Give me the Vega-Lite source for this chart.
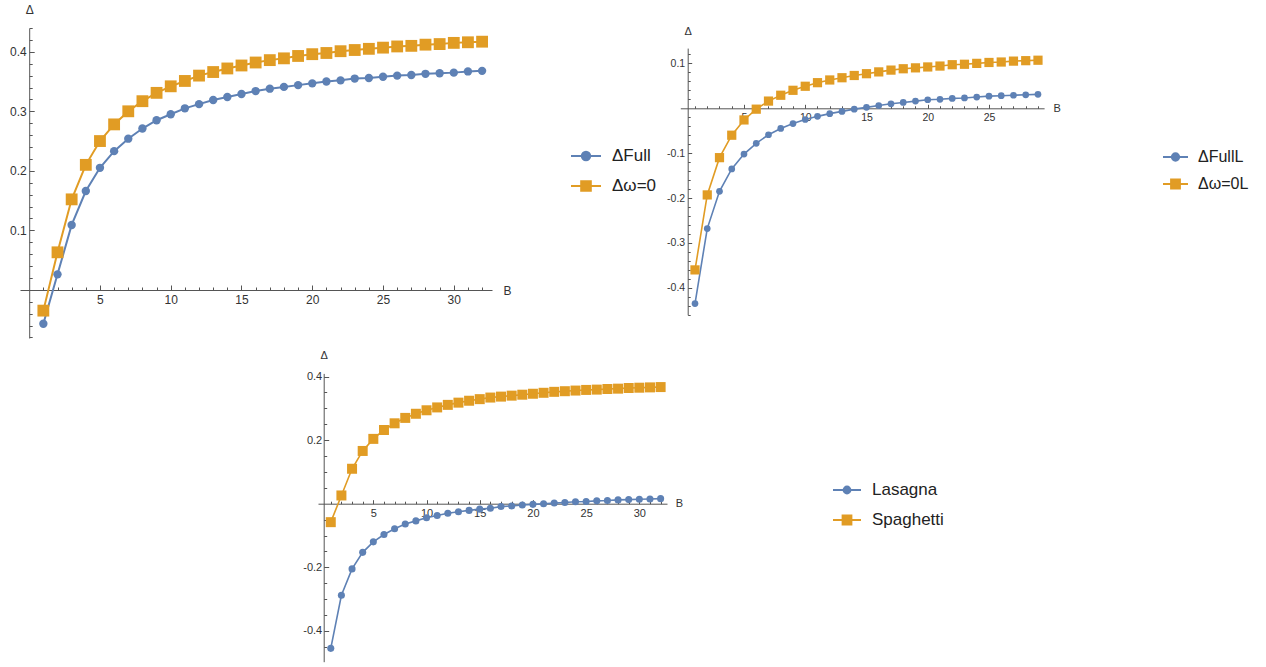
{
  "$schema": "https://vega.github.io/schema/vega-lite/v6.json",
  "width": 1266,
  "height": 667,
  "padding": 0,
  "autosize": "none",
  "background": "white",
  "config": {
    "view": {"stroke": null},
    "font": "Liberation Sans",
    "axis": {
      "grid": false,
      "domainColor": "#555555",
      "tickColor": "#555555",
      "domainWidth": 1,
      "tickWidth": 1,
      "labelColor": "#333333",
      "titleColor": "#333333",
      "labelFont": "Liberation Sans",
      "titleFont": "Liberation Sans",
      "titleFontWeight": "normal",
      "titleFontSize": 12,
      "labelOverlap": false,
      "labelFlush": false
    },
    "legend": {
      "labelFont": "Liberation Sans",
      "labelColor": "#222222",
      "padding": 0,
      "labelLimit": 0
    }
  },
  "datasets": {
    "p1": [
      {"B":1,"s":"ΔFull","v":-0.057},{"B":2,"s":"ΔFull","v":0.026},{"B":3,"s":"ΔFull","v":0.109},{"B":4,"s":"ΔFull","v":0.166},
      {"B":5,"s":"ΔFull","v":0.205},{"B":6,"s":"ΔFull","v":0.233},{"B":7,"s":"ΔFull","v":0.254},{"B":8,"s":"ΔFull","v":0.271},
      {"B":9,"s":"ΔFull","v":0.285},{"B":10,"s":"ΔFull","v":0.295},{"B":11,"s":"ΔFull","v":0.305},{"B":12,"s":"ΔFull","v":0.312},
      {"B":13,"s":"ΔFull","v":0.319},{"B":14,"s":"ΔFull","v":0.324},{"B":15,"s":"ΔFull","v":0.329},{"B":16,"s":"ΔFull","v":0.334},
      {"B":17,"s":"ΔFull","v":0.338},{"B":18,"s":"ΔFull","v":0.341},{"B":19,"s":"ΔFull","v":0.344},{"B":20,"s":"ΔFull","v":0.347},
      {"B":21,"s":"ΔFull","v":0.35},{"B":22,"s":"ΔFull","v":0.352},{"B":23,"s":"ΔFull","v":0.355},{"B":24,"s":"ΔFull","v":0.356},
      {"B":25,"s":"ΔFull","v":0.358},{"B":26,"s":"ΔFull","v":0.36},{"B":27,"s":"ΔFull","v":0.361},{"B":28,"s":"ΔFull","v":0.363},
      {"B":29,"s":"ΔFull","v":0.364},{"B":30,"s":"ΔFull","v":0.365},{"B":31,"s":"ΔFull","v":0.367},{"B":32,"s":"ΔFull","v":0.368},
      {"B":1,"s":"Δω=0","v":-0.035},{"B":2,"s":"Δω=0","v":0.063},{"B":3,"s":"Δω=0","v":0.152},{"B":4,"s":"Δω=0","v":0.21},
      {"B":5,"s":"Δω=0","v":0.25},{"B":6,"s":"Δω=0","v":0.278},{"B":7,"s":"Δω=0","v":0.3},{"B":8,"s":"Δω=0","v":0.317},
      {"B":9,"s":"Δω=0","v":0.331},{"B":10,"s":"Δω=0","v":0.342},{"B":11,"s":"Δω=0","v":0.351},{"B":12,"s":"Δω=0","v":0.36},
      {"B":13,"s":"Δω=0","v":0.366},{"B":14,"s":"Δω=0","v":0.372},{"B":15,"s":"Δω=0","v":0.377},{"B":16,"s":"Δω=0","v":0.382},
      {"B":17,"s":"Δω=0","v":0.386},{"B":18,"s":"Δω=0","v":0.389},{"B":19,"s":"Δω=0","v":0.393},{"B":20,"s":"Δω=0","v":0.396},
      {"B":21,"s":"Δω=0","v":0.398},{"B":22,"s":"Δω=0","v":0.401},{"B":23,"s":"Δω=0","v":0.403},{"B":24,"s":"Δω=0","v":0.405},
      {"B":25,"s":"Δω=0","v":0.407},{"B":26,"s":"Δω=0","v":0.409},{"B":27,"s":"Δω=0","v":0.41},{"B":28,"s":"Δω=0","v":0.412},
      {"B":29,"s":"Δω=0","v":0.413},{"B":30,"s":"Δω=0","v":0.415},{"B":31,"s":"Δω=0","v":0.416},{"B":32,"s":"Δω=0","v":0.417}
    ],
    "p2": [
      {"B":1,"s":"ΔFullL","v":-0.435},{"B":2,"s":"ΔFullL","v":-0.268},{"B":3,"s":"ΔFullL","v":-0.185},{"B":4,"s":"ΔFullL","v":-0.135},
      {"B":5,"s":"ΔFullL","v":-0.102},{"B":6,"s":"ΔFullL","v":-0.078},{"B":7,"s":"ΔFullL","v":-0.059},{"B":8,"s":"ΔFullL","v":-0.045},
      {"B":9,"s":"ΔFullL","v":-0.034},{"B":10,"s":"ΔFullL","v":-0.025},{"B":11,"s":"ΔFullL","v":-0.018},{"B":12,"s":"ΔFullL","v":-0.012},
      {"B":13,"s":"ΔFullL","v":-0.007},{"B":14,"s":"ΔFullL","v":-0.002},{"B":15,"s":"ΔFullL","v":0.002},{"B":16,"s":"ΔFullL","v":0.006},
      {"B":17,"s":"ΔFullL","v":0.01},{"B":18,"s":"ΔFullL","v":0.013},{"B":19,"s":"ΔFullL","v":0.016},{"B":20,"s":"ΔFullL","v":0.019},
      {"B":21,"s":"ΔFullL","v":0.02},{"B":22,"s":"ΔFullL","v":0.022},{"B":23,"s":"ΔFullL","v":0.023},{"B":24,"s":"ΔFullL","v":0.025},
      {"B":25,"s":"ΔFullL","v":0.027},{"B":26,"s":"ΔFullL","v":0.028},{"B":27,"s":"ΔFullL","v":0.029},{"B":28,"s":"ΔFullL","v":0.03},
      {"B":29,"s":"ΔFullL","v":0.031},
      {"B":1,"s":"Δω=0L","v":-0.36},{"B":2,"s":"Δω=0L","v":-0.193},{"B":3,"s":"Δω=0L","v":-0.11},{"B":4,"s":"Δω=0L","v":-0.06},
      {"B":5,"s":"Δω=0L","v":-0.026},{"B":6,"s":"Δω=0L","v":-0.002},{"B":7,"s":"Δω=0L","v":0.016},{"B":8,"s":"Δω=0L","v":0.029},
      {"B":9,"s":"Δω=0L","v":0.04},{"B":10,"s":"Δω=0L","v":0.049},{"B":11,"s":"Δω=0L","v":0.057},{"B":12,"s":"Δω=0L","v":0.063},
      {"B":13,"s":"Δω=0L","v":0.068},{"B":14,"s":"Δω=0L","v":0.073},{"B":15,"s":"Δω=0L","v":0.077},{"B":16,"s":"Δω=0L","v":0.081},
      {"B":17,"s":"Δω=0L","v":0.085},{"B":18,"s":"Δω=0L","v":0.088},{"B":19,"s":"Δω=0L","v":0.09},{"B":20,"s":"Δω=0L","v":0.092},
      {"B":21,"s":"Δω=0L","v":0.094},{"B":22,"s":"Δω=0L","v":0.097},{"B":23,"s":"Δω=0L","v":0.098},{"B":24,"s":"Δω=0L","v":0.1},
      {"B":25,"s":"Δω=0L","v":0.102},{"B":26,"s":"Δω=0L","v":0.103},{"B":27,"s":"Δω=0L","v":0.105},{"B":28,"s":"Δω=0L","v":0.106},
      {"B":29,"s":"Δω=0L","v":0.107}
    ],
    "p3": [
      {"B":1,"s":"Lasagna","v":-0.455},{"B":2,"s":"Lasagna","v":-0.288},{"B":3,"s":"Lasagna","v":-0.205},{"B":4,"s":"Lasagna","v":-0.153},
      {"B":5,"s":"Lasagna","v":-0.12},{"B":6,"s":"Lasagna","v":-0.097},{"B":7,"s":"Lasagna","v":-0.079},{"B":8,"s":"Lasagna","v":-0.064},
      {"B":9,"s":"Lasagna","v":-0.054},{"B":10,"s":"Lasagna","v":-0.044},{"B":11,"s":"Lasagna","v":-0.037},{"B":12,"s":"Lasagna","v":-0.03},
      {"B":13,"s":"Lasagna","v":-0.025},{"B":14,"s":"Lasagna","v":-0.021},{"B":15,"s":"Lasagna","v":-0.017},{"B":16,"s":"Lasagna","v":-0.014},
      {"B":17,"s":"Lasagna","v":-0.009},{"B":18,"s":"Lasagna","v":-0.007},{"B":19,"s":"Lasagna","v":-0.004},{"B":20,"s":"Lasagna","v":-0.002},
      {"B":21,"s":"Lasagna","v":0.0},{"B":22,"s":"Lasagna","v":0.002},{"B":23,"s":"Lasagna","v":0.004},{"B":24,"s":"Lasagna","v":0.006},
      {"B":25,"s":"Lasagna","v":0.007},{"B":26,"s":"Lasagna","v":0.009},{"B":27,"s":"Lasagna","v":0.01},{"B":28,"s":"Lasagna","v":0.012},
      {"B":29,"s":"Lasagna","v":0.013},{"B":30,"s":"Lasagna","v":0.014},{"B":31,"s":"Lasagna","v":0.015},{"B":32,"s":"Lasagna","v":0.016},
      {"B":1,"s":"Spaghetti","v":-0.058},{"B":2,"s":"Spaghetti","v":0.026},{"B":3,"s":"Spaghetti","v":0.11},{"B":4,"s":"Spaghetti","v":0.166},
      {"B":5,"s":"Spaghetti","v":0.204},{"B":6,"s":"Spaghetti","v":0.232},{"B":7,"s":"Spaghetti","v":0.253},{"B":8,"s":"Spaghetti","v":0.27},
      {"B":9,"s":"Spaghetti","v":0.283},{"B":10,"s":"Spaghetti","v":0.294},{"B":11,"s":"Spaghetti","v":0.303},{"B":12,"s":"Spaghetti","v":0.311},
      {"B":13,"s":"Spaghetti","v":0.318},{"B":14,"s":"Spaghetti","v":0.324},{"B":15,"s":"Spaghetti","v":0.329},{"B":16,"s":"Spaghetti","v":0.334},
      {"B":17,"s":"Spaghetti","v":0.337},{"B":18,"s":"Spaghetti","v":0.34},{"B":19,"s":"Spaghetti","v":0.343},{"B":20,"s":"Spaghetti","v":0.346},
      {"B":21,"s":"Spaghetti","v":0.349},{"B":22,"s":"Spaghetti","v":0.352},{"B":23,"s":"Spaghetti","v":0.354},{"B":24,"s":"Spaghetti","v":0.356},
      {"B":25,"s":"Spaghetti","v":0.358},{"B":26,"s":"Spaghetti","v":0.359},{"B":27,"s":"Spaghetti","v":0.361},{"B":28,"s":"Spaghetti","v":0.362},
      {"B":29,"s":"Spaghetti","v":0.364},{"B":30,"s":"Spaghetti","v":0.365},{"B":31,"s":"Spaghetti","v":0.366},{"B":32,"s":"Spaghetti","v":0.367}
    ]
  },
  "layer": [
    {
      "data": {"name": "p1"},
      "encoding": {
        "x": {
          "field": "B", "type": "quantitative",
          "scale": {"domain": [-0.65, 32.7], "range": [20, 492], "nice": false, "zero": false},
          "axis": {
            "orient": "bottom", "offset": -377,
            "values": [1,2,3,4,5,6,7,8,9,10,11,12,13,14,15,16,17,18,19,20,21,22,23,24,25,26,27,28,29,30,31,32],
            "labelExpr": "datum.value % 5 === 0 ? format(datum.value, 'd') : ''",
            "tickSize": {"condition": {"test": "datum.value % 5 === 0", "value": -5}, "value": -3},
            "labelPadding": 9, "labelFontSize": 12,
            "title": "B", "titleX": 507, "titleY": 0, "titleAlign": "center", "titleBaseline": "middle", "titleAngle": 0
          }
        },
        "y": {
          "field": "v", "type": "quantitative",
          "scale": {"domain": [-0.081, 0.44], "range": [338, 28], "nice": false, "zero": false},
          "axis": {
            "orient": "left", "offset": -29.2,
            "values": [-0.08,-0.06,-0.04,-0.02,0.02,0.04,0.06,0.08,0.1,0.12,0.14,0.16,0.18,0.2,0.22,0.24,0.26,0.28,0.3,0.32,0.34,0.36,0.38,0.4,0.42,0.44],
            "labelExpr": "abs(round(datum.value*100)) % 10 === 0 ? (datum.value < 0 ? '-' : '') + format(abs(datum.value), '.1f') : ''",
            "tickSize": {"condition": {"test": "abs(round(datum.value*100)) % 10 === 0", "value": -5}, "value": -3},
            "labelPadding": 8, "labelFontSize": 12,
            "title": "Δ", "titleX": 0, "titleY": 9, "titleAlign": "center", "titleBaseline": "middle", "titleAngle": 0
          }
        },
        "color": {
          "field": "s", "type": "nominal",
          "scale": {"domain": ["ΔFull", "Δω=0"], "range": ["#5E81B5", "#E19C24"]},
          "legend": {
            "orient": "none", "legendX": 570, "legendY": 140, "title": null,
            "symbolSize": 900, "labelFontSize": 17, "labelOffset": 10, "rowPadding": 5,
            "encode": {"symbols": {"update": {
              "shape": {"signal": "datum.index === 0 ? 'M-1,0H1M0.28,0A0.28,0.28 0 1,1 -0.28,0A0.28,0.28 0 1,1 0.28,0Z' : 'M-1,0H1M-0.32,-0.32H0.32V0.32H-0.32Z'"},
              "fill": {"signal": "datum.index === 0 ? '#5E81B5' : '#E19C24'"},
              "stroke": {"signal": "datum.index === 0 ? '#5E81B5' : '#E19C24'"},
              "strokeWidth": {"value": 2},
              "opacity": {"value": 1}
            }}}
          }
        }
      },
      "layer": [
        {"mark": {"type": "line", "strokeWidth": 2}},
        {"transform": [{"filter": "datum.s === 'ΔFull'"}], "mark": {"type": "point", "shape": "circle", "filled": true, "opacity": 1, "size": 70}},
        {"transform": [{"filter": "datum.s === 'Δω=0'"}], "mark": {"type": "point", "shape": "square", "filled": true, "opacity": 1, "size": 140}}
      ]
    },
    {
      "data": {"name": "p2"},
      "encoding": {
        "x": {
          "field": "B", "type": "quantitative",
          "scale": {"domain": [-0.2, 29.5], "range": [680.3, 1044.1], "nice": false, "zero": false},
          "axis": {
            "orient": "bottom", "offset": -558.7,
            "values": [1,2,3,4,5,6,7,8,9,10,11,12,13,14,15,16,17,18,19,20,21,22,23,24,25,26,27,28,29],
            "labelExpr": "datum.value % 5 === 0 ? format(datum.value, 'd') : ''",
            "tickSize": {"condition": {"test": "datum.value % 5 === 0", "value": -4}, "value": -2.5},
            "labelPadding": 8, "labelFontSize": 10.5,
            "title": "B", "titleX": 1056.7, "titleY": 0, "titleAlign": "center", "titleBaseline": "middle", "titleAngle": 0, "titleFontSize": 11
          }
        },
        "y": {
          "field": "v", "type": "quantitative",
          "scale": {"domain": [-0.46, 0.134], "range": [314.8, 48.1], "nice": false, "zero": false},
          "axis": {
            "orient": "left", "offset": -687.7,
            "values": [-0.46,-0.44,-0.42,-0.4,-0.38,-0.36,-0.34,-0.32,-0.3,-0.28,-0.26,-0.24,-0.22,-0.2,-0.18,-0.16,-0.14,-0.12,-0.1,-0.08,-0.06,-0.04,-0.02,0.02,0.04,0.06,0.08,0.1,0.12],
            "labelExpr": "abs(round(datum.value*100)) % 10 === 0 ? (datum.value < 0 ? '-' : '') + format(abs(datum.value), '.1f') : ''",
            "tickSize": {"condition": {"test": "abs(round(datum.value*100)) % 10 === 0", "value": -4}, "value": -2.5},
            "labelPadding": 7, "labelFontSize": 10.5,
            "title": "Δ", "titleX": 0, "titleY": 31.7, "titleAlign": "center", "titleBaseline": "middle", "titleAngle": 0, "titleFontSize": 11
          }
        },
        "color": {
          "field": "s", "type": "nominal",
          "scale": {"domain": ["ΔFullL", "Δω=0L"], "range": ["#5E81B5", "#E19C24"]},
          "legend": {
            "orient": "none", "legendX": 1162, "legendY": 143.5, "title": null,
            "symbolSize": 625, "labelFontSize": 16, "labelOffset": 9, "rowPadding": 5,
            "encode": {"symbols": {"update": {
              "shape": {"signal": "datum.index === 0 ? 'M-1,0H1M0.3,0A0.3,0.3 0 1,1 -0.3,0A0.3,0.3 0 1,1 0.3,0Z' : 'M-1,0H1M-0.36,-0.36H0.36V0.36H-0.36Z'"},
              "fill": {"signal": "datum.index === 0 ? '#5E81B5' : '#E19C24'"},
              "stroke": {"signal": "datum.index === 0 ? '#5E81B5' : '#E19C24'"},
              "strokeWidth": {"value": 1.8},
              "opacity": {"value": 1}
            }}}
          }
        }
      },
      "layer": [
        {"mark": {"type": "line", "strokeWidth": 1.6}},
        {"transform": [{"filter": "datum.s === 'ΔFullL'"}], "mark": {"type": "point", "shape": "circle", "filled": true, "opacity": 1, "size": 45}},
        {"transform": [{"filter": "datum.s === 'Δω=0L'"}], "mark": {"type": "point", "shape": "square", "filled": true, "opacity": 1, "size": 85}}
      ]
    },
    {
      "data": {"name": "p3"},
      "encoding": {
        "x": {
          "field": "B", "type": "quantitative",
          "scale": {"domain": [-0.2, 32.6], "range": [318, 667], "nice": false, "zero": false},
          "axis": {
            "orient": "bottom", "offset": -163.3,
            "values": [1,2,3,4,5,6,7,8,9,10,11,12,13,14,15,16,17,18,19,20,21,22,23,24,25,26,27,28,29,30,31,32],
            "labelExpr": "datum.value % 5 === 0 ? format(datum.value, 'd') : ''",
            "tickSize": {"condition": {"test": "datum.value % 5 === 0", "value": -4}, "value": -2.5},
            "labelPadding": 8, "labelFontSize": 11,
            "title": "B", "titleX": 679, "titleY": 0, "titleAlign": "center", "titleBaseline": "middle", "titleAngle": 0, "titleFontSize": 11
          }
        },
        "y": {
          "field": "v", "type": "quantitative",
          "scale": {"domain": [-0.497, 0.41], "range": [661.7, 373.4], "nice": false, "zero": false},
          "axis": {
            "orient": "left", "offset": -323.7,
            "values": [-0.45,-0.4,-0.35,-0.3,-0.25,-0.2,-0.15,-0.1,-0.05,0.05,0.1,0.15,0.2,0.25,0.3,0.35,0.4],
            "labelExpr": "abs(round(datum.value*100)) % 20 === 0 ? (datum.value < 0 ? '-' : '') + format(abs(datum.value), '.1f') : ''",
            "tickSize": {"condition": {"test": "abs(round(datum.value*100)) % 20 === 0", "value": -5}, "value": -3},
            "labelPadding": 7, "labelFontSize": 11,
            "title": "Δ", "titleX": 0, "titleY": 355.7, "titleAlign": "center", "titleBaseline": "middle", "titleAngle": 0, "titleFontSize": 11
          }
        },
        "color": {
          "field": "s", "type": "nominal",
          "scale": {"domain": ["Lasagna", "Spaghetti"], "range": ["#5E81B5", "#E19C24"]},
          "legend": {
            "orient": "none", "legendX": 832, "legendY": 475, "title": null,
            "symbolSize": 784, "labelFontSize": 17, "labelOffset": 10, "rowPadding": 7,
            "encode": {"symbols": {"update": {
              "shape": {"signal": "datum.index === 0 ? 'M-1,0H1M0.25,0A0.25,0.25 0 1,1 -0.25,0A0.25,0.25 0 1,1 0.25,0Z' : 'M-1,0H1M-0.32,-0.32H0.32V0.32H-0.32Z'"},
              "fill": {"signal": "datum.index === 0 ? '#5E81B5' : '#E19C24'"},
              "stroke": {"signal": "datum.index === 0 ? '#5E81B5' : '#E19C24'"},
              "strokeWidth": {"value": 1.8},
              "opacity": {"value": 1}
            }}}
          }
        }
      },
      "layer": [
        {"mark": {"type": "line", "strokeWidth": 1.6}},
        {"transform": [{"filter": "datum.s === 'Lasagna'"}], "mark": {"type": "point", "shape": "circle", "filled": true, "opacity": 1, "size": 50}},
        {"transform": [{"filter": "datum.s === 'Spaghetti'"}], "mark": {"type": "point", "shape": "square", "filled": true, "opacity": 1, "size": 100}}
      ]
    }
  ],
  "resolve": {
    "scale": {"x": "independent", "y": "independent", "color": "independent"},
    "axis": {"x": "independent", "y": "independent"},
    "legend": {"color": "independent"}
  }
}
